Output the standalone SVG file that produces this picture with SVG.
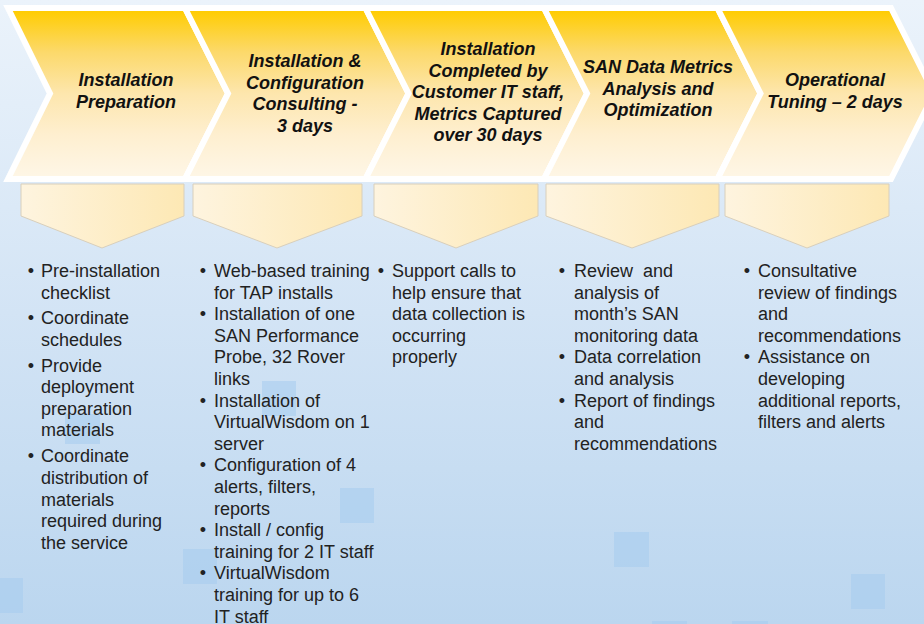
<svg xmlns="http://www.w3.org/2000/svg" width="924" height="624" viewBox="0 0 924 624">
  <defs>
    <linearGradient id="bg" x1="0" y1="0" x2="0" y2="1">
      <stop offset="0" stop-color="#EBF3FB"/>
      <stop offset="0.5" stop-color="#D3E4F5"/>
      <stop offset="1" stop-color="#BBD6EF"/>
    </linearGradient>
    <linearGradient id="chev" gradientUnits="userSpaceOnUse" x1="0" y1="10" x2="0" y2="177">
      <stop offset="0" stop-color="#FFCC00"/>
      <stop offset="0.25" stop-color="#FCD96A"/>
      <stop offset="0.5" stop-color="#FDE6AD"/>
      <stop offset="0.75" stop-color="#FEEFD0"/>
      <stop offset="1" stop-color="#FEF6E6"/>
    </linearGradient>
    <linearGradient id="pent" x1="0" y1="0" x2="1" y2="0">
      <stop offset="0" stop-color="#FEF4DF"/>
      <stop offset="1" stop-color="#FDE8B4"/>
    </linearGradient>
    <style>
      .chev { fill: url(#chev); stroke: #FFFFFF; stroke-width: 6; stroke-linejoin: miter; }
      .pent { fill: url(#pent); stroke: #D8CFBC; stroke-width: 1; }
      .sq { fill: #A6CCEE; fill-opacity: 0.55; }
      .hd { font-family: "Liberation Sans", Arial, sans-serif; font-size: 18px; font-weight: bold; font-style: italic; fill: #111111; text-anchor: middle; }
      .bd { font-family: "Liberation Sans", Arial, sans-serif; font-size: 18px; fill: #222222; }
      .bl { font-family: "Liberation Sans", Arial, sans-serif; font-size: 18px; fill: #222222; text-anchor: middle; }
    </style>
  </defs>

  <rect x="0" y="0" width="924" height="624" fill="url(#bg)"/>
  <g id="background-squares">
    <rect class="sq" x="262" y="381" width="34" height="35"/>
    <rect class="sq" x="65" y="414" width="35" height="30"/>
    <rect class="sq" x="340" y="488" width="34" height="35"/>
    <rect class="sq" x="183" y="549" width="34" height="35"/>
    <rect class="sq" x="0" y="578" width="23" height="35"/>
    <rect class="sq" x="614" y="532" width="35" height="35"/>
    <rect class="sq" x="851" y="574" width="34" height="35"/>
    <rect class="sq" x="652" y="621" width="35" height="3" fill-opacity="0.3"/>
    <rect class="sq" x="732" y="621" width="36" height="3"/>
  </g>

  <g id="connectors"></g>

  <g id="stage1">
    <path class="chev" d="M8,8 L185,8 L228,93.5 L185,179 L8,179 L50,93.5 Z"/>
    <text class="hd"><tspan x="126" y="86">Installation</tspan><tspan x="126" y="107.5">Preparation</tspan></text>
    <path class="pent" d="M21,184 L184,184 L184,216 L102,248 L21,216 Z"/>
    <text class="bl"><tspan x="31" y="277">•</tspan><tspan x="31" y="324">•</tspan><tspan x="31" y="371.6">•</tspan><tspan x="31" y="462.4">•</tspan></text>
    <text class="bd">
      <tspan x="41" y="277">Pre-installation</tspan>
      <tspan x="41" y="298.6">checklist</tspan>
      <tspan x="41" y="324">Coordinate</tspan>
      <tspan x="41" y="345.6">schedules</tspan>
      <tspan x="41" y="371.6">Provide</tspan>
      <tspan x="41" y="393.2">deployment</tspan>
      <tspan x="41" y="414.8">preparation</tspan>
      <tspan x="41" y="436.4">materials</tspan>
      <tspan x="41" y="462.4">Coordinate</tspan>
      <tspan x="41" y="484">distribution of</tspan>
      <tspan x="41" y="505.6">materials</tspan>
      <tspan x="41" y="527.2">required during</tspan>
      <tspan x="41" y="548.8">the service</tspan>
    </text>
  </g>

  <g id="stage2">
    <path class="chev" d="M185,8 L365.5,8 L408.5,93.5 L365.5,179 L185,179 L228,93.5 Z"/>
    <text class="hd"><tspan x="305" y="67">Installation &amp;</tspan><tspan x="305" y="88.5">Configuration</tspan><tspan x="305" y="110">Consulting -</tspan><tspan x="305" y="131.5">3 days</tspan></text>
    <path class="pent" d="M193,184 L362,184 L362,216 L277,248 L193,216 Z"/>
    <text class="bl"><tspan x="203" y="277">•</tspan><tspan x="203" y="320.2">•</tspan><tspan x="203" y="406.6">•</tspan><tspan x="203" y="471.4">•</tspan><tspan x="203" y="536.2">•</tspan><tspan x="203" y="579.4">•</tspan></text>
    <text class="bd">
      <tspan x="214" y="277">Web-based training</tspan>
      <tspan x="214" y="298.6">for TAP installs</tspan>
      <tspan x="214" y="320.2">Installation of one</tspan>
      <tspan x="214" y="341.8">SAN Performance</tspan>
      <tspan x="214" y="363.4">Probe, 32 Rover</tspan>
      <tspan x="214" y="385">links</tspan>
      <tspan x="214" y="406.6">Installation of</tspan>
      <tspan x="214" y="428.2">VirtualWisdom on 1</tspan>
      <tspan x="214" y="449.8">server</tspan>
      <tspan x="214" y="471.4">Configuration of 4</tspan>
      <tspan x="214" y="493">alerts, filters,</tspan>
      <tspan x="214" y="514.6">reports</tspan>
      <tspan x="214" y="536.2">Install / config</tspan>
      <tspan x="214" y="557.8">training for 2 IT staff</tspan>
      <tspan x="214" y="579.4">VirtualWisdom</tspan>
      <tspan x="214" y="601">training for up to 6</tspan>
      <tspan x="214" y="622.6">IT staff</tspan>
    </text>
  </g>

  <g id="stage3">
    <path class="chev" d="M365.5,8 L544,8 L587,93.5 L544,179 L365.5,179 L408.5,93.5 Z"/>
    <text class="hd"><tspan x="488" y="55">Installation</tspan><tspan x="488" y="76.5">Completed by</tspan><tspan x="488" y="98">Customer IT staff,</tspan><tspan x="488" y="119.5">Metrics Captured</tspan><tspan x="488" y="141">over 30 days</tspan></text>
    <path class="pent" d="M374,184 L538,184 L538,216 L456,248 L374,216 Z"/>
    <text class="bl"><tspan x="381" y="277">•</tspan></text>
    <text class="bd">
      <tspan x="392" y="277">Support calls to</tspan>
      <tspan x="392" y="298.6">help ensure that</tspan>
      <tspan x="392" y="320.2">data collection is</tspan>
      <tspan x="392" y="341.8">occurring</tspan>
      <tspan x="392" y="363.4">properly</tspan>
    </text>
  </g>

  <g id="stage4">
    <path class="chev" d="M544,8 L717.5,8 L760.5,93.5 L717.5,179 L544,179 L587,93.5 Z"/>
    <text class="hd"><tspan x="658" y="73">SAN Data Metrics</tspan><tspan x="658" y="94.5">Analysis and</tspan><tspan x="658" y="116">Optimization</tspan></text>
    <path class="pent" d="M546,184 L719,184 L719,216 L632,248 L546,216 Z"/>
    <text class="bl"><tspan x="562" y="277">•</tspan><tspan x="562" y="363.4">•</tspan><tspan x="562" y="406.6">•</tspan></text>
    <text class="bd" xml:space="preserve"><tspan x="574" y="277">Review  and</tspan><tspan x="574" y="298.6">analysis of</tspan><tspan x="574" y="320.2">month’s SAN</tspan><tspan x="574" y="341.8">monitoring data</tspan><tspan x="574" y="363.4">Data correlation</tspan><tspan x="574" y="385">and analysis</tspan><tspan x="574" y="406.6">Report of findings</tspan><tspan x="574" y="428.2">and</tspan><tspan x="574" y="449.8">recommendations</tspan></text>
  </g>

  <g id="stage5">
    <path class="chev" d="M717.5,8 L891,8 L934,93.5 L891,179 L717.5,179 L760.5,93.5 Z"/>
    <text class="hd"><tspan x="835" y="86">Operational</tspan><tspan x="835" y="107.5">Tuning – 2 days</tspan></text>
    <path class="pent" d="M725,184 L889,184 L889,216 L807,248 L725,216 Z"/>
    <text class="bl"><tspan x="747" y="277">•</tspan><tspan x="747" y="363.4">•</tspan></text>
    <text class="bd">
      <tspan x="758" y="277">Consultative</tspan>
      <tspan x="758" y="298.6">review of findings</tspan>
      <tspan x="758" y="320.2">and</tspan>
      <tspan x="758" y="341.8">recommendations</tspan>
      <tspan x="758" y="363.4">Assistance on</tspan>
      <tspan x="758" y="385">developing</tspan>
      <tspan x="758" y="406.6">additional reports,</tspan>
      <tspan x="758" y="428.2">filters and alerts</tspan>
    </text>
  </g>
</svg>
